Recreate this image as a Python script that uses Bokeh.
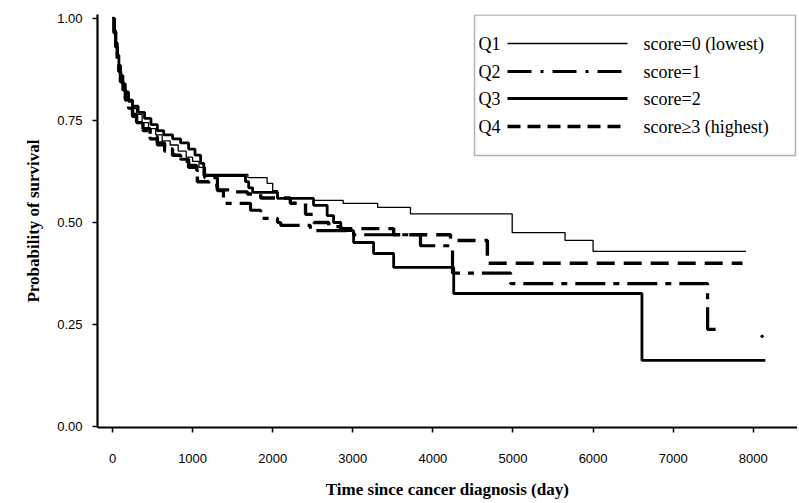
from bokeh.plotting import figure
from bokeh.models import Range1d, FixedTicker, BoxAnnotation
from bokeh.embed import file_html
from bokeh.resources import INLINE
from bokeh.core.properties import value

# ---------------- data ----------------
q1_time = [0, 20, 40, 60, 80, 100, 130, 160, 200, 250, 300, 370, 450, 540, 620, 720, 820, 920, 1000, 1080,
           1160, 1690, 1930, 2000, 2060, 2510, 2880, 3310, 3720, 4990, 5650, 6000]
q1_surv = [1.0, 0.965, 0.935, 0.905, 0.88, 0.855, 0.835, 0.815, 0.795, 0.78, 0.765, 0.745, 0.73, 0.715, 0.70,
           0.69, 0.675, 0.66, 0.65, 0.635, 0.618, 0.61, 0.596, 0.578, 0.559, 0.554, 0.547, 0.537, 0.521, 0.475,
           0.456, 0.429]
q1_end = 7910

q2_time = [0, 20, 40, 60, 80, 100, 130, 160, 200, 250, 300, 380, 470, 560, 650, 750, 850, 950, 1050, 1150,
           1310, 1385, 1723, 1850, 2060, 2100, 2470, 3010, 3845, 4245, 4970, 7430]
q2_surv = [1.0, 0.965, 0.93, 0.90, 0.87, 0.845, 0.82, 0.80, 0.78, 0.76, 0.745, 0.725, 0.705, 0.69, 0.675, 0.665,
           0.655, 0.64, 0.628, 0.61, 0.578, 0.547, 0.53, 0.51, 0.50, 0.493, 0.48, 0.47, 0.443, 0.376, 0.35, 0.238]
q2_end = 7590

q3_time = [0, 20, 40, 60, 80, 100, 130, 160, 200, 250, 320, 400, 480, 560, 640, 750, 850, 950, 1030, 1100,
           1140, 1660, 1700, 1750, 2060, 2510, 2680, 2760, 2850, 3010, 3260, 3510, 4260, 6610]
q3_surv = [1.0, 0.97, 0.94, 0.91, 0.885, 0.86, 0.84, 0.82, 0.80, 0.785, 0.77, 0.755, 0.74, 0.725, 0.715, 0.705,
           0.695, 0.68, 0.665, 0.645, 0.615, 0.60, 0.585, 0.574, 0.559, 0.542, 0.517, 0.50, 0.48, 0.451, 0.424,
           0.39, 0.326, 0.162]
q3_end = 8150

q4_time = [0, 20, 40, 60, 80, 100, 130, 160, 200, 250, 300, 380, 470, 560, 650, 750, 850, 950,
           1060, 1200, 1310, 1500, 1685, 1850, 2220, 2410, 2510, 2700, 2850, 3510, 4220, 4680]
q4_surv = [1.0, 0.965, 0.93, 0.90, 0.87, 0.845, 0.825, 0.805, 0.785, 0.765, 0.75, 0.73, 0.71, 0.695, 0.68, 0.665,
           0.65, 0.635, 0.60, 0.59, 0.58, 0.575, 0.57, 0.56, 0.547, 0.52, 0.50, 0.49, 0.485, 0.47, 0.456, 0.40]
q4_end = 7865

stray_x = [8110]
stray_y = [0.221]

x_ticks = [0, 1000, 2000, 3000, 4000, 5000, 6000, 7000, 8000]
y_ticks = [0.0, 0.25, 0.5, 0.75, 1.0]
y_tick_labels = ["0.00", "0.25", "0.50", "0.75", "1.00"]

legend_codes = ["Q1", "Q2", "Q3", "Q4"]
legend_labels = ["score=0 (lowest)", "score=1", "score=2", "score\u22653 (highest)"]

# ---------------- layout ----------------
W, H = 797, 501
FL, FT, FR, FB = 97, 14, 0, 74
X0, X1 = -187.3, 8552.0
Y0, Y1 = -0.00245, 1.0098
FW, FH = W - FL - FR, H - FT - FB

p = figure(width=W, height=H, x_range=Range1d(X0, X1), y_range=Range1d(Y0, Y1),
           output_backend="svg", toolbar_location=None,
           min_border_left=FL, min_border_top=FT, min_border_right=FR, min_border_bottom=FB)
p.outline_line_color = None
p.grid.visible = False
p.background_fill_color = "white"
p.border_fill_color = "white"

# axes
for ax in (p.xaxis[0], p.yaxis[0]):
    ax.axis_line_width = 2.2
    ax.axis_line_color = "black"
    ax.major_tick_line_color = "black"
    ax.major_tick_line_width = 1.5
    ax.major_tick_in = 0
    ax.major_tick_out = 5
    ax.minor_tick_line_color = None
    ax.major_label_text_font = "Liberation Sans"
    ax.major_label_text_font_size = "13px"
    ax.major_label_text_color = "black"
    ax.axis_label_text_font = "Liberation Serif"
    ax.axis_label_text_font_style = "bold"
    ax.axis_label_text_font_size = "17px"
    ax.axis_label_text_color = "black"

p.xaxis[0].ticker = FixedTicker(ticks=x_ticks)
p.xaxis[0].major_label_overrides = {t: str(t) for t in x_ticks}
p.xaxis[0].major_label_standoff = 21
p.xaxis[0].axis_label = "Time since cancer diagnosis (day)"
p.xaxis[0].axis_label_standoff = 14

p.yaxis[0].ticker = FixedTicker(ticks=y_ticks)
p.yaxis[0].major_label_overrides = {t: l for t, l in zip(y_ticks, y_tick_labels)}
p.yaxis[0].major_label_standoff = 10
p.yaxis[0].axis_label = "Probability of survival"
p.yaxis[0].axis_label_standoff = 11

# ---------------- curves ----------------
styles = [
    dict(line_width=1.3, line_dash="solid"),
    dict(line_width=3.2, line_dash="30 8 6 8"),
    dict(line_width=2.8, line_dash="solid"),
    dict(line_width=3.4, line_dash="18 9"),
]
legend_dash = ["solid", "24 9 3 9", "solid", "13 7"]
curves = [(q1_time, q1_surv, q1_end), (q2_time, q2_surv, q2_end),
          (q3_time, q3_surv, q3_end), (q4_time, q4_surv, q4_end)]

for (t, s, end), st in zip(curves, styles):
    xs = list(t) + [end]
    ys = list(s) + [s[-1]]
    p.step(xs, ys, mode="after", line_color="black", **st)

p.scatter(stray_x, stray_y, size=2.5, color="black")

# ---------------- legend (drawn by hand) ----------------
def dx(px):
    return X0 + (px - FL) / FW * (X1 - X0)

def dy(py):
    return Y1 - (py - FT) / FH * (Y1 - Y0)

p.add_layout(BoxAnnotation(left=dx(474), right=dx(795), top=dy(14.5), bottom=dy(155),
                           fill_color=None, line_color="black", line_width=1.5))

rows = [43, 71, 98, 126]
for i, r in enumerate(rows):
    p.line([dx(507), dx(627)], [dy(r), dy(r)], line_color="black",
           line_width=styles[i]["line_width"], line_dash=legend_dash[i])

p.text(x=[dx(478)] * 4, y=[dy(r) for r in rows], text=legend_codes,
       text_font=value("Liberation Serif"), text_font_size="18px",
       text_baseline="middle", text_align="left", text_color="black")
p.text(x=[dx(643)] * 4, y=[dy(r) for r in rows], text=legend_labels,
       text_font=value("Liberation Serif"), text_font_size="18px",
       text_baseline="middle", text_align="left", text_color="black")

open("out.html", "w").write(file_html(p, INLINE))
